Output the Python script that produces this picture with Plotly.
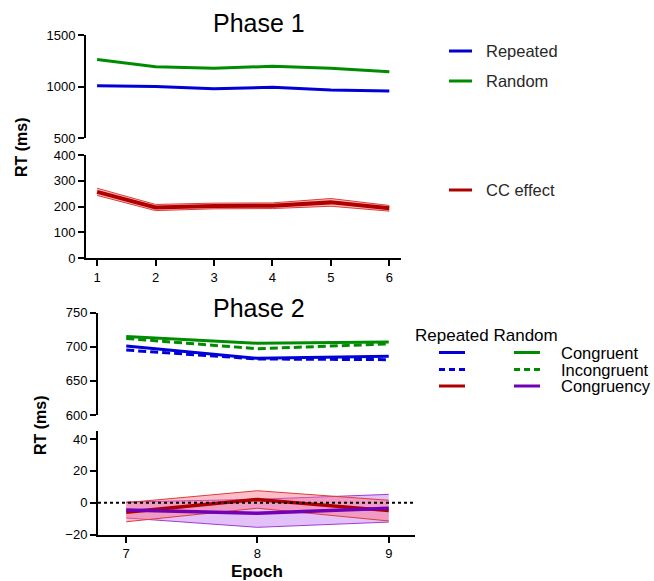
import plotly.graph_objects as go

# ---------------- data ----------------
epochs1 = [1, 2, 3, 4, 5, 6]
repeated1 = [1008, 1000, 977, 993, 967, 957]
random1 = [1262, 1192, 1177, 1196, 1178, 1142]
cc_effect1 = [257, 196, 202, 203, 216, 193]
cc_err1 = [14, 12, 11, 11, 15, 11]

epochs2 = [7, 8, 9]
rep_congruent = [701, 683, 686]
rep_incongruent = [695, 682, 681]
rand_congruent = [715, 705, 707]
rand_incongruent = [712, 697, 704]
rep_congruency = [-6.0, 2.0, -5.0]
rep_congruency_err = [6.0, 5.5, 6.5]
rand_congruency = [-4.6, -6.7, -3.5]
rand_congruency_err = [5.0, 8.8, 8.7]

y1_top_ticks = [500, 1000, 1500]
y1_bot_ticks = [0, 100, 200, 300, 400]
y2_top_ticks = [600, 650, 700, 750]
y2_bot_ticks = [-20, 0, 20, 40]

# ---------------- style ----------------
W, H = 654, 581
BLUE = "rgb(0,0,215)"
GREEN = "rgb(0,140,0)"
DRED = "rgb(175,0,0)"
PURPLE = "rgb(115,0,180)"
FONT = "Liberation Sans, Arial, sans-serif"


def px(x):
    return x / W


def py(y):
    return 1 - y / H


fig = go.Figure()

# Phase 1 top
fig.add_trace(go.Scatter(x=epochs1, y=random1, mode="lines", line=dict(color=GREEN, width=3),
                         xaxis="x", yaxis="y", showlegend=False))
fig.add_trace(go.Scatter(x=epochs1, y=repeated1, mode="lines", line=dict(color=BLUE, width=3),
                         xaxis="x", yaxis="y", showlegend=False))
# Phase 1 bottom CC effect with band
up1 = [v + e for v, e in zip(cc_effect1, cc_err1)]
lo1 = [v - e for v, e in zip(cc_effect1, cc_err1)]
fig.add_trace(go.Scatter(x=epochs1, y=up1, mode="lines", line=dict(color="rgb(220,60,60)", width=1),
                         xaxis="x2", yaxis="y2", showlegend=False))
fig.add_trace(go.Scatter(x=epochs1, y=lo1, mode="lines", line=dict(color="rgb(220,60,60)", width=1),
                         fill="tonexty", fillcolor="rgba(255,150,150,0.6)",
                         xaxis="x2", yaxis="y2", showlegend=False))
fig.add_trace(go.Scatter(x=epochs1, y=cc_effect1, mode="lines", line=dict(color=DRED, width=4),
                         xaxis="x2", yaxis="y2", showlegend=False))

# Phase 2 top
fig.add_trace(go.Scatter(x=epochs2, y=rand_congruent, mode="lines", line=dict(color=GREEN, width=3),
                         xaxis="x3", yaxis="y3", showlegend=False))
fig.add_trace(go.Scatter(x=epochs2, y=rand_incongruent, mode="lines",
                         line=dict(color=GREEN, width=3, dash="8px,4px"),
                         xaxis="x3", yaxis="y3", showlegend=False))
fig.add_trace(go.Scatter(x=epochs2, y=rep_congruent, mode="lines", line=dict(color=BLUE, width=3),
                         xaxis="x3", yaxis="y3", showlegend=False))
fig.add_trace(go.Scatter(x=epochs2, y=rep_incongruent, mode="lines",
                         line=dict(color=BLUE, width=3, dash="8px,4px"),
                         xaxis="x3", yaxis="y3", showlegend=False))

# Phase 2 bottom: congruency effects with bands
pu = [v + e for v, e in zip(rand_congruency, rand_congruency_err)]
pl = [v - e for v, e in zip(rand_congruency, rand_congruency_err)]
ru = [v + e for v, e in zip(rep_congruency, rep_congruency_err)]
rl = [v - e for v, e in zip(rep_congruency, rep_congruency_err)]
fig.add_trace(go.Scatter(x=epochs2, y=pu, mode="lines", line=dict(color="rgb(160,60,210)", width=1),
                         xaxis="x4", yaxis="y4", showlegend=False))
fig.add_trace(go.Scatter(x=epochs2, y=pl, mode="lines", line=dict(color="rgb(160,60,210)", width=1),
                         fill="tonexty", fillcolor="rgba(200,130,240,0.5)",
                         xaxis="x4", yaxis="y4", showlegend=False))
fig.add_trace(go.Scatter(x=epochs2, y=ru, mode="lines", line=dict(color="rgb(220,60,60)", width=1),
                         xaxis="x4", yaxis="y4", showlegend=False))
fig.add_trace(go.Scatter(x=epochs2, y=rl, mode="lines", line=dict(color="rgb(220,60,60)", width=1),
                         fill="tonexty", fillcolor="rgba(255,110,130,0.45)",
                         xaxis="x4", yaxis="y4", showlegend=False))
fig.add_trace(go.Scatter(x=epochs2, y=rep_congruency, mode="lines", line=dict(color=DRED, width=3.5),
                         xaxis="x4", yaxis="y4", showlegend=False))
fig.add_trace(go.Scatter(x=epochs2, y=rand_congruency, mode="lines", line=dict(color=PURPLE, width=3.5),
                         xaxis="x4", yaxis="y4", showlegend=False))

axis_common = dict(showgrid=False, zeroline=False, showline=True, linecolor="black", linewidth=2,
                   ticks="outside", tickwidth=2, ticklen=6, tickcolor="black", automargin=False,
                   tickfont=dict(family=FONT, size=13, color="black"))

x1_range = [0.81, 6.2]
x2_range = [6.785, 9.2]
p1_dom = [px(86), px(401)]
p2_dom = [px(98), px(415)]

fig.update_layout(
    width=W, height=H,
    margin=dict(l=0, r=0, t=0, b=0, pad=0),
    paper_bgcolor="white", plot_bgcolor="rgba(0,0,0,0)",
    font=dict(family=FONT, color="black"),
    xaxis=dict(domain=p1_dom, range=x1_range, visible=False, anchor="y"),
    yaxis=dict(domain=[py(138), py(35)], range=[500, 1500], tickvals=y1_top_ticks,
               anchor="x", **axis_common),
    xaxis2=dict(domain=p1_dom, range=x1_range, tickvals=epochs1, anchor="y2", **axis_common),
    yaxis2=dict(domain=[py(258), py(155)], range=[0, 400], tickvals=y1_bot_ticks,
                anchor="x2", **axis_common),
    xaxis3=dict(domain=p2_dom, range=x2_range, visible=False, anchor="y3"),
    yaxis3=dict(domain=[py(415), py(312.5)], range=[600, 750], tickvals=y2_top_ticks,
                anchor="x3", **axis_common),
    xaxis4=dict(domain=p2_dom, range=x2_range, tickvals=epochs2, anchor="y4", **axis_common),
    yaxis4=dict(domain=[py(534.5), py(431)], range=[-20, 45], tickvals=y2_bot_ticks,
                anchor="x4", **axis_common),
)

shapes = [
    # dotted zero line
    dict(type="line", xref="x4 domain", yref="y4", x0=0, x1=1, y0=0, y1=0,
         line=dict(color="black", width=2, dash="dot")),
]

annotations = [
    dict(text="Phase 1", x=px(259), y=py(23), xref="paper", yref="paper", showarrow=False,
         xanchor="center", yanchor="middle", font=dict(size=25, family=FONT)),
    dict(text="Phase 2", x=px(259), y=py(308), xref="paper", yref="paper", showarrow=False,
         xanchor="center", yanchor="middle", font=dict(size=25, family=FONT)),
    dict(text="<b>RT (ms)</b>", x=px(21), y=py(147), xref="paper", yref="paper", showarrow=False,
         xanchor="center", yanchor="middle", textangle=-90, font=dict(size=16, family=FONT)),
    dict(text="<b>RT (ms)</b>", x=px(40), y=py(425), xref="paper", yref="paper", showarrow=False,
         xanchor="center", yanchor="middle", textangle=-90, font=dict(size=16, family=FONT)),
    dict(text="<b>Epoch</b>", x=px(257), y=py(571), xref="paper", yref="paper", showarrow=False,
         xanchor="center", yanchor="middle", font=dict(size=17, family=FONT)),
]

# Phase 1 legend
leg1 = [("Repeated", BLUE, 51), ("Random", GREEN, 81), ("CC effect", DRED, 190)]
for name, col, yy in leg1:
    shapes.append(dict(type="line", xref="paper", yref="paper", x0=px(449), x1=px(472),
                       y0=py(yy), y1=py(yy), line=dict(color=col, width=3)))
    annotations.append(dict(text=name, x=px(484), y=py(yy), xref="paper", yref="paper",
                            xanchor="left", yanchor="middle", showarrow=False,
                            font=dict(size=16.5, family=FONT, color="rgb(40,40,40)")))

# Phase 2 legend
annotations.append(dict(text="Repeated Random", x=px(413), y=py(335), xref="paper", yref="paper",
                        xanchor="left", yanchor="middle", showarrow=False,
                        font=dict(size=17, family=FONT)))
leg2 = [("Congruent", BLUE, GREEN, "solid", 352.5),
        ("Incongruent", BLUE, GREEN, "6px,4px", 369.5),
        ("Congruency", DRED, PURPLE, "solid", 386)]
for name, c1, c2, dash, yy in leg2:
    shapes.append(dict(type="line", xref="paper", yref="paper", x0=px(439), x1=px(465),
                       y0=py(yy), y1=py(yy), line=dict(color=c1, width=3, dash=dash)))
    shapes.append(dict(type="line", xref="paper", yref="paper", x0=px(514), x1=px(540),
                       y0=py(yy), y1=py(yy), line=dict(color=c2, width=3, dash=dash)))
    annotations.append(dict(text=name, x=px(559), y=py(yy), xref="paper", yref="paper",
                            xanchor="left", yanchor="middle", showarrow=False,
                            font=dict(size=16.5, family=FONT)))

fig.update_layout(shapes=shapes, annotations=annotations)

fig.write_html(
    "out.html",
    config={"displayModeBar": False},
    post_script="document.body.style.margin='0';document.body.style.overflow='hidden';",
)
